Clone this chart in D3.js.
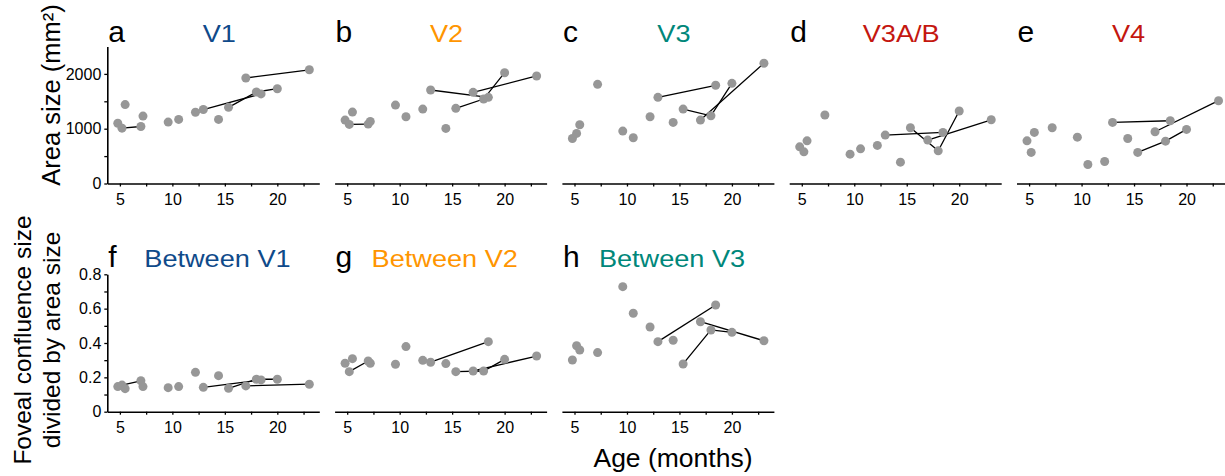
<!DOCTYPE html>
<html>
<head>
<meta charset="utf-8">
<script src="https://cdn.jsdelivr.net/npm/d3@7"></script>
<style>
  body { margin: 0; background: #fff; }
  svg { display: block; font-family: "Liberation Sans", Arial, sans-serif; }
</style>
</head>
<body>
<svg width="1225" height="476"></svg>
<script>
'use strict';
// ages (months) of every scan, shared by all panels
const AGES = [4.8, 5.2, 5.5, 7.0, 7.2, 9.6, 10.6, 12.2, 12.95, 14.4, 15.35, 17.0, 18.0, 18.45, 20.0, 23.05];

// area size (mm^2), null where a scan is missing
const V1_AREA   = [1100, 1010, 1440, 1040, 1230, 1120, 1170, 1300, 1350, 1170, 1390, 1925, 1670, 1635, 1730, 2075];
const V2_AREA   = [1157, 1078, 1303, 1084, 1133, 1431, 1218, 1358, 1706, 1005, 1371, 1663, 1541, 1572, 2022, 1962];
const V3_AREA   = [822, 914, 1072, null, 1810, 956, 834, 1218, 1572, 1115, 1358, 1157, 1236, 1792, 1828, 2194];
const V3AB_AREA = [669, 578, 779, null, 1249, 536, 633, 695, 883, 389, 1017, 792, 596, 932, 1322, 1163];
const V4_AREA   = [779, 567, 932, null, 1017, 846, 347, 402, 1115, 822, 567, 944, 773, 1145, 987, 1511];

// foveal confluence size divided by area size
const V1_RATIO = [0.146, 0.155, 0.134, 0.180, 0.146, 0.140, 0.146, 0.229, 0.142, 0.210, 0.136, 0.150, 0.189, 0.185, 0.189, 0.160];
const V2_RATIO = [0.282, 0.233, 0.309, 0.295, 0.282, 0.276, 0.379, 0.299, 0.288, 0.280, 0.233, 0.237, 0.237, 0.408, 0.305, 0.324];
const V3_RATIO = [0.301, 0.384, 0.359, null, 0.344, 0.728, 0.573, 0.493, 0.408, 0.416, 0.278, 0.524, 0.476, 0.621, 0.462, 0.413];

// longitudinal subjects: indexes into AGES joined by a line
const SUBJECTS = [[1, 3], [8, 13], [10, 12, 14], [11, 15]];

const X_TICKS = [5, 7.5, 10, 12.5, 15, 17.5, 20, 22.5];
const AREA_TICKS = [0, 500, 1000, 1500, 2000];
const RATIO_TICKS = [0, 0.1, 0.2, 0.3, 0.4, 0.5, 0.6, 0.7, 0.8];

const BLUE = '#0f4a8a', ORANGE = '#ff9500', TEAL = '#00877a', RED = '#c4170f';

const PANELS = [
  { letter: 'a', title: 'V1', color: BLUE, row: 0, col: 0, values: V1_AREA },
  { letter: 'b', title: 'V2', color: ORANGE, row: 0, col: 1, values: V2_AREA },
  { letter: 'c', title: 'V3', color: TEAL, row: 0, col: 2, values: V3_AREA },
  { letter: 'd', title: 'V3A/B', color: RED, row: 0, col: 3, values: V3AB_AREA },
  { letter: 'e', title: 'V4', color: RED, row: 0, col: 4, values: V4_AREA },
  { letter: 'f', title: 'Between V1', color: BLUE, row: 1, col: 0, values: V1_RATIO },
  { letter: 'g', title: 'Between V2', color: ORANGE, row: 1, col: 1, values: V2_RATIO },
  { letter: 'h', title: 'Between V3', color: TEAL, row: 1, col: 2, values: V3_RATIO }
];

const svg = d3.select('svg');
const W = 212;
const ROWS = [
  { y0: 183.5, y1: 46.5, domain: [0, 2500], ticks: AREA_TICKS, major: d => d % 1000 === 0, fmt: d3.format('d'), titleY: 42 },
  { y0: 411.7, y1: 274.3, domain: [0, 0.8], ticks: RATIO_TICKS, major: d => Math.round(d * 10) % 2 === 0, fmt: d => d === 0 ? '0' : d3.format('.1f')(d), titleY: 266.5 }
];

function styleAxis(g) {
  g.select('.domain').attr('stroke', '#000').attr('stroke-width', 1.6);
  g.selectAll('.tick line').attr('stroke', '#000').attr('stroke-width', 1.3);
  g.selectAll('.tick text').attr('fill', '#000').attr('font-size', '16px')
    .attr('font-family', '"Liberation Sans", Arial, sans-serif');
}

PANELS.forEach(p => {
  const r = ROWS[p.row];
  const x0 = 107.3 + p.col * 227.3;
  const x = d3.scaleLinear().domain([3.8, 24]).range([x0, x0 + W]);
  const y = d3.scaleLinear().domain(r.domain).range([r.y0, r.y1]);
  const g = svg.append('g');

  g.append('g')
    .attr('transform', `translate(0,${r.y0})`)
    .call(d3.axisBottom(x).tickValues(X_TICKS).tickSize(3).tickSizeOuter(0).tickPadding(7)
      .tickFormat(d => d % 5 === 0 ? d : ''))
    .call(styleAxis);

  if (p.col === 0) {
    g.append('g')
      .attr('transform', `translate(${x0},0)`)
      .call(d3.axisLeft(y).tickValues(r.ticks).tickSize(3).tickSizeOuter(0).tickPadding(3)
        .tickFormat(d => r.major(d) ? r.fmt(d) : ''))
      .call(styleAxis);
  }

  const pts = AGES.map((a, i) => ({ a, v: p.values[i] }));

  SUBJECTS.forEach(s => {
    const seg = s.map(i => pts[i]).filter(d => d.v != null);
    if (seg.length < 2) return;
    g.append('path')
      .attr('d', d3.line().x(d => x(d.a)).y(d => y(d.v))(seg))
      .attr('fill', 'none')
      .attr('stroke', '#000')
      .attr('stroke-width', 1.3);
  });

  g.selectAll('circle').data(pts.filter(d => d.v != null)).enter()
    .append('circle')
    .attr('cx', d => x(d.a))
    .attr('cy', d => y(d.v))
    .attr('r', 4.5)
    .attr('fill', '#979797');

  g.append('text')
    .attr('x', x0 + 1)
    .attr('y', r.titleY)
    .attr('font-size', '30px')
    .text(p.letter);

  const tx = p.row === 0 ? x0 + 112 : x0 + 37;
  g.append('text')
    .attr('transform', `translate(${tx},${r.titleY}) scale(1.18,1)`)
    .attr('text-anchor', p.row === 0 ? 'middle' : 'start')
    .attr('font-size', '23px')
    .attr('fill', p.color)
    .text(p.title);
});

// axis titles
svg.append('text')
  .attr('transform', 'translate(59.5,95) rotate(-90)')
  .attr('text-anchor', 'middle')
  .attr('font-size', '25.5px')
  .text('Area size (mm²)');

const lbl = svg.append('text')
  .attr('transform', 'translate(0,340) rotate(-90)')
  .attr('text-anchor', 'middle')
  .attr('font-size', '24.5px');
lbl.append('tspan').attr('x', 0).attr('y', 31).text('Foveal confluence size');
lbl.append('tspan').attr('x', 0).attr('y', 60).text('divided by area size');

svg.append('text')
  .attr('x', 673)
  .attr('y', 467)
  .attr('text-anchor', 'middle')
  .attr('font-size', '26.5px')
  .text('Age (months)');
</script>
</body>
</html>
